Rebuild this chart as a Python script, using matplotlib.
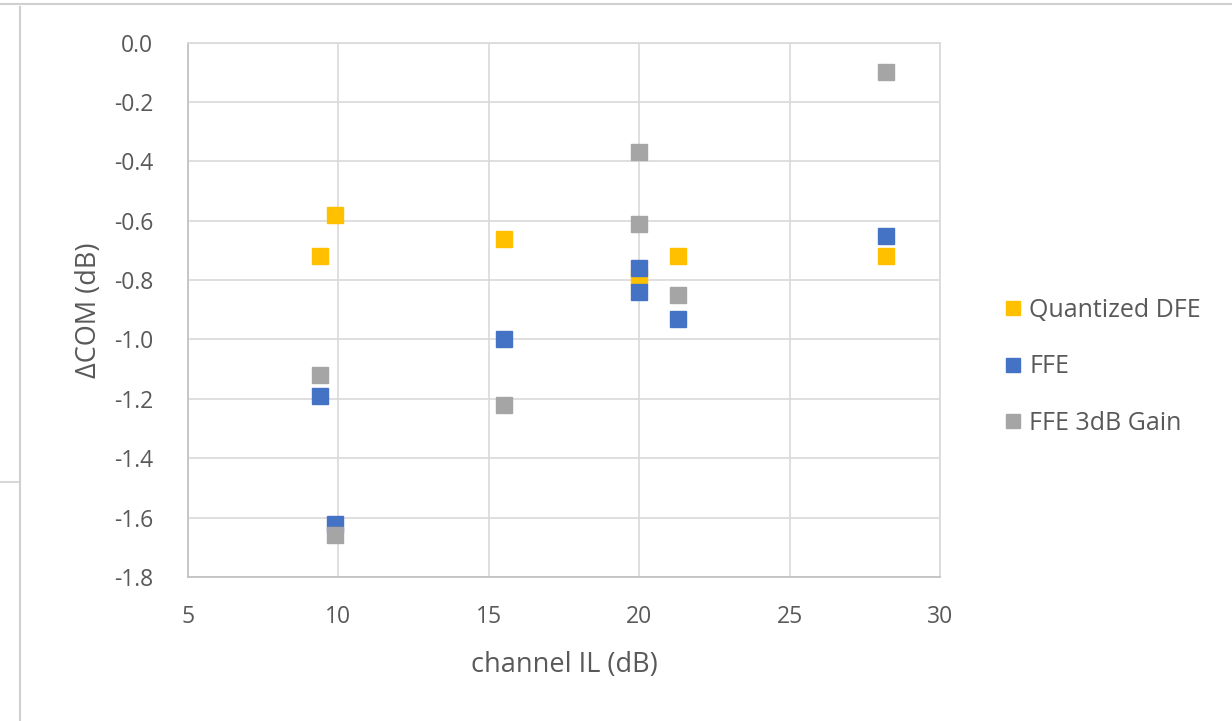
import matplotlib.pyplot as plt
from matplotlib.lines import Line2D

plt.rcParams['font.family'] = ['Open Sans', 'DejaVu Sans']

# channel insertion loss (dB) for each case
il_dfe = [9.4, 9.9, 15.5, 20.0, 21.3, 28.2]
il_ffe = [9.4, 9.9, 15.5, 20.0, 20.0, 21.3, 28.2]
il_gain = [9.4, 9.9, 15.5, 20.0, 20.0, 21.3, 28.2]

# change in COM (dB)
dcom_dfe = [-0.72, -0.58, -0.66, -0.79, -0.72, -0.72]
dcom_ffe = [-1.19, -1.62, -1.00, -0.76, -0.84, -0.93, -0.65]
dcom_gain = [-1.12, -1.66, -1.22, -0.37, -0.61, -0.85, -0.10]

series_names = ['Quantized DFE', 'FFE', 'FFE 3dB Gain']
series_colors = ['#FFC000', '#4472C4', '#A5A5A5']

x_ticks = [5, 10, 15, 20, 25, 30]
y_ticks = [0.0, -0.2, -0.4, -0.6, -0.8, -1.0, -1.2, -1.4, -1.6, -1.8]

txt = '#595959'
grid = '#D9D9D9'

fig = plt.figure(figsize=(12.32, 7.21), dpi=100)
ax = fig.add_axes([0.1526, 0.1997, 0.6104, 0.7413])

data = [(il_dfe, dcom_dfe), (il_ffe, dcom_ffe), (il_gain, dcom_gain)]
for z, ((xs, ys), name, col) in enumerate(zip(data, series_names, series_colors)):
    ax.plot(xs, ys, ls='none', marker='s', ms=11.3, mfc=col, mec=col,
            label=name, zorder=3 + z)

ax.set_xlim(5, 30)
ax.set_ylim(-1.8, 0.0)
ax.set_xticks(x_ticks)
ax.set_yticks(y_ticks)
ax.set_xticklabels([str(v) for v in x_ticks])
ax.set_yticklabels(['%.1f' % v for v in y_ticks])
ax.tick_params(length=0, colors=txt, labelsize=16.5)
ax.tick_params(axis='x', pad=20)
ax.tick_params(axis='y', pad=25)
ax.grid(True, color=grid, lw=1.2)
ax.set_axisbelow(True)
for side in ['top', 'right']:
    ax.spines[side].set_color(grid)
    ax.spines[side].set_linewidth(1.2)
for side in ['left', 'bottom']:
    ax.spines[side].set_color('#BFBFBF')
    ax.spines[side].set_linewidth(1.2)

ax.set_xlabel('channel IL (dB)', color=txt, fontsize=19.5, labelpad=16)
ax.set_ylabel('\u0394COM (dB)', color=txt, fontsize=19.5, labelpad=8)

leg = fig.legend(loc='center left', bbox_to_anchor=(0.798, 0.491), frameon=False,
                 fontsize=18, labelcolor=txt, handlelength=0.6,
                 handletextpad=0.35, labelspacing=1.25, markerscale=0.9)

# chart frame edges
fig.add_artist(Line2D([0, 1], [0.994, 0.994], transform=fig.transFigure,
                      color='#D0D0D0', lw=1.5))
fig.add_artist(Line2D([0.0165, 0.0165], [0, 0.99], transform=fig.transFigure,
                      color='#D0D0D0', lw=1.5))
fig.add_artist(Line2D([0, 0.0165], [0.332, 0.332], transform=fig.transFigure,
                      color='#D0D0D0', lw=1.2))

fig.savefig('out.png', dpi=100)
